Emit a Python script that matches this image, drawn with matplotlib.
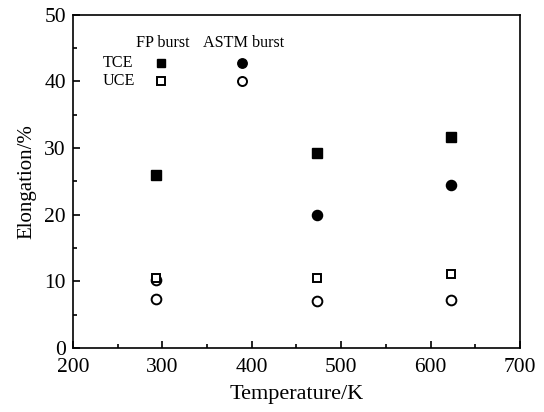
import matplotlib
matplotlib.use("Agg")
import matplotlib.pyplot as plt
from matplotlib.ticker import MultipleLocator

plt.rcParams['font.family'] = ['Liberation Serif', 'DejaVu Serif']

temps = [293, 473, 623]
tce_fp = [26.0, 29.2, 31.7]
uce_fp = [10.5, 10.5, 11.1]
tce_astm_t = [473, 623]
tce_astm = [20.0, 24.5]
uce_astm_t = [293, 293, 473, 623]
uce_astm = [10.2, 7.3, 7.1, 7.2]

fig = plt.figure(figsize=(5.44, 4.12), dpi=100)
ax = fig.add_axes([0.134, 0.155, 0.822, 0.809])

ms = 6.5
ax.plot(temps, tce_fp, 's', color='black', ms=ms, ls='none')
ax.plot(tce_astm_t, tce_astm, 'o', color='black', ms=ms + 0.8, ls='none')
ax.plot(uce_astm_t, uce_astm, 'o', mfc='white', mec='black', mew=1.4, ms=ms + 0.5, ls='none')
ax.plot(temps, uce_fp, 's', mfc='white', mec='black', mew=1.4, ms=ms - 0.5, ls='none')

# in-plot legend
lfs = 11.6
ax.text(300, 45.8, 'FP burst', ha='center', va='center', fontsize=lfs)
ax.text(391, 45.8, 'ASTM burst', ha='center', va='center', fontsize=lfs)
ax.text(233, 42.8, 'TCE', ha='left', va='center', fontsize=lfs)
ax.text(233, 40.0, 'UCE', ha='left', va='center', fontsize=lfs)
ax.plot([298], [42.8], 's', color='black', ms=ms - 0.5)
ax.plot([389], [42.8], 'o', color='black', ms=ms + 0.3)
ax.plot([298], [40.0], 's', mfc='white', mec='black', mew=1.4, ms=ms - 1.2)
ax.plot([389], [40.0], 'o', mfc='white', mec='black', mew=1.4, ms=ms)

ax.set_xlim(200, 700)
ax.set_ylim(0, 50)
ax.xaxis.set_major_locator(MultipleLocator(100))
ax.xaxis.set_minor_locator(MultipleLocator(50))
ax.yaxis.set_major_locator(MultipleLocator(10))
ax.yaxis.set_minor_locator(MultipleLocator(5))
ax.tick_params(which='both', direction='in', top=False, right=False, labelsize=15.5, width=1.2)
ax.tick_params(which='major', length=5)
ax.tick_params(which='minor', length=3)
ax.tick_params(axis='x', pad=7)
ax.tick_params(axis='y', pad=5)
for s in ax.spines.values():
    s.set_linewidth(1.2)

ax.set_xlabel('Temperature/K', fontsize=16, labelpad=6)
ax.set_ylabel('Elongation/%', fontsize=15, labelpad=6)

fig.savefig('out.png', dpi=100)
